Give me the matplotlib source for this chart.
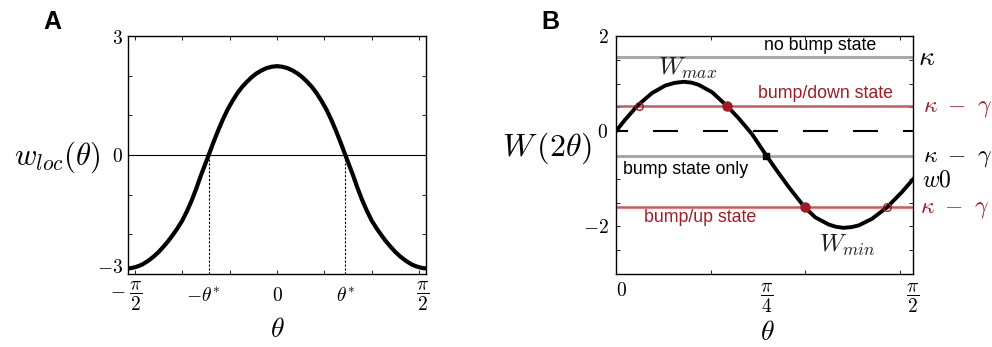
import matplotlib
matplotlib.use('Agg')
import matplotlib.pyplot as plt
import matplotlib.transforms as mtransforms
import numpy as np

plt.rcParams['mathtext.fontset'] = 'cm'
plt.rcParams['font.family'] = ['Liberation Sans', 'DejaVu Sans']
plt.rcParams['lines.scale_dashes'] = False

# ---------------- Panel A data ----------------
theta_a = [-1.571, -1.535, -1.50, -1.46, -1.42, -1.36, -1.30, -1.25, -1.20, -1.15, -1.10,
           -1.05, -1.00, -0.95, -0.90, -0.85, -0.80, -0.76, -0.72, -0.67, -0.62, -0.57,
           -0.52, -0.47, -0.42, -0.37, -0.32, -0.27, -0.22, -0.165, -0.11, -0.055, 0.0,
           0.055, 0.11, 0.165, 0.22, 0.27, 0.32, 0.37, 0.42, 0.47, 0.52, 0.57, 0.62,
           0.67, 0.72, 0.76, 0.80, 0.85, 0.90, 0.95, 1.00, 1.05, 1.10, 1.15, 1.20,
           1.25, 1.30, 1.36, 1.42, 1.46, 1.50, 1.535, 1.571]
w_loc = [-2.86, -2.85, -2.83, -2.80, -2.76, -2.67, -2.56, -2.45, -2.32, -2.18, -2.02,
         -1.85, -1.66, -1.42, -1.15, -0.84, -0.50, -0.25, 0.0, 0.32, 0.62, 0.90,
         1.15, 1.36, 1.55, 1.71, 1.84, 1.955, 2.05, 2.13, 2.19, 2.225, 2.24,
         2.225, 2.19, 2.13, 2.05, 1.955, 1.84, 1.71, 1.55, 1.36, 1.15, 0.90, 0.62,
         0.32, 0.0, -0.25, -0.50, -0.84, -1.15, -1.42, -1.66, -1.85, -2.02, -2.18, -2.32,
         -2.45, -2.56, -2.67, -2.76, -2.80, -2.83, -2.85, -2.86]
theta_star = 0.72
a_xticks = [-1.5, -1.0, -0.5, 0.0, 0.5, 1.0, 1.5]
a_yticks = [-3, -2, -1, 0, 1, 2, 3]
a_ylab_txt = [r'$3$', r'$0$', r'$-3$']
a_xlab_pos = [-1.59, -0.78, 0.0, 0.72, 1.53]
a_xlab_txt = [r'$-\;\dfrac{\pi}{2}$', r'$-\theta^{*}$', r'$0$', r'$\theta^{*}$', r'$\dfrac{\pi}{2}$']

# ---------------- Panel B data ----------------
theta_b = [0.0, 0.049, 0.116, 0.190, 0.261, 0.310, 0.358, 0.400, 0.437, 0.508, 0.587,
           0.649, 0.719, 0.790, 0.842, 0.913, 0.998, 1.054, 1.125, 1.165, 1.204, 1.245,
           1.283, 1.354, 1.433, 1.512, 1.571]
W_b = [0.0, 0.246, 0.547, 0.80, 0.96, 1.015, 1.038, 1.02, 0.975, 0.82, 0.53,
       0.27, -0.06, -0.48, -0.78, -1.17, -1.60, -1.81, -1.96, -2.01, -2.03, -2.015,
       -1.98, -1.84, -1.60, -1.28, -1.01]
kappa = 1.56
kappa_down = 0.53
kappa_gamma = -0.53
kappa_up = -1.60
open_pts_x = [0.122, 1.432]
open_pts_y = [0.53, -1.60]
filled_pts_x = [0.587, 0.998]
filled_pts_y = [0.53, -1.60]
square_x = [0.792]
square_y = [-0.53]
b_xticks = [0.0, 0.5, 1.0, 1.5]
b_yticks = [-3, -2.5, -2, -1.5, -1, -0.5, 0, 0.5, 1, 1.5, 2]
b_ytick_labels = ['', '', r'$-2$', '', '', '', r'$0$', '', '', '', r'$2$']
b_xlab_pos = [0.795, 1.568]
b_xlab_txt = [r'$\dfrac{\pi}{4}$', r'$\dfrac{\pi}{2}$']

RED_LINE = '#c9595e'
RED_DARK = '#a01c22'
GREY = '#a8a8a8'

W, H = 992, 347
def fx(px):
    return px / W
def fy(py):
    return 1 - py / H

fig = plt.figure(figsize=(W / 100, H / 100), dpi=100)
axA = fig.add_axes([fx(128), fy(274), 298 / W, 238 / H])
axB = fig.add_axes([fx(616), fy(274), 297 / W, 238 / H])

for ax in (axA, axB):
    for s in ax.spines.values():
        s.set_linewidth(1.0)
    ax.tick_params(direction='in', length=3, width=0.6, top=True, right=True)

# ---------------- Panel A ----------------
axA.axhline(0, color='k', lw=0.8, zorder=2)
axA.vlines([-theta_star, theta_star], -3, 0, colors='k', linestyles=(0, (1.6, 1.2)), lw=0.8, zorder=2)
axA.plot(theta_a, w_loc, color='k', lw=3.0, zorder=3, solid_joinstyle='round')
axA.set_xlim(-np.pi / 2, np.pi / 2)
axA.set_ylim(-3, 3)
axA.set_xticks(a_xticks)
axA.set_xticklabels([])
axA.set_yticks(a_yticks)
axA.set_yticklabels([])
trA = mtransforms.blended_transform_factory(axA.transData, fig.transFigure)
for p, t in zip(a_xlab_pos, a_xlab_txt):
    axA.text(p, fy(296), t, transform=trA, ha='center', va='center', fontsize=14)
trAy = mtransforms.blended_transform_factory(fig.transFigure, axA.transData)
a_ylab_off = [2.93, -0.05, -2.85]
for t, yo in zip(a_ylab_txt, a_ylab_off):
    axA.text(fx(123), yo, t, transform=trAy, ha='right', va='center', fontsize=14)
fig.text(fx(277), fy(330), r'$\theta$', ha='center', va='center', fontsize=20)
fig.text(fx(57), fy(157), r'$w_{loc}(\theta)$', ha='center', va='center', fontsize=22)
fig.text(fx(52), fy(22), 'A', ha='center', va='center', fontsize=18, fontweight='bold')

# ---------------- Panel B ----------------
axB.axhline(kappa, color=GREY, lw=2.2, zorder=2)
axB.axhline(kappa_gamma, color=GREY, lw=2.2, zorder=2)
axB.axhline(kappa_down, color=RED_LINE, lw=1.8, zorder=2)
axB.axhline(kappa_up, color=RED_LINE, lw=1.8, zorder=2)
axB.axhline(0, color='k', lw=1.5, linestyle=(9.4, (18, 18)), zorder=2)
axB.plot(theta_b, W_b, color='k', lw=2.8, zorder=3, solid_joinstyle='round')
axB.plot(open_pts_x, open_pts_y, 'o', ms=5.5, mfc='none', mec=RED_DARK, mew=1.0, zorder=4)
axB.plot(filled_pts_x, filled_pts_y, 'o', ms=6.5, color=RED_DARK, zorder=4)
axB.plot(square_x, square_y, 's', ms=5, color='k', zorder=4)
axB.set_xlim(0, np.pi / 2)
axB.set_ylim(-3, 2)
axB.set_xticks(b_xticks)
axB.set_xticklabels([])
axB.set_yticks(b_yticks)
axB.set_yticklabels(b_ytick_labels, fontsize=14)
axB.tick_params(axis='y', pad=5.5)
trB = mtransforms.blended_transform_factory(axB.transData, fig.transFigure)
axB.text(0.03, fy(291), r'$0$', transform=trB, ha='center', va='center', fontsize=14)
for p, t in zip(b_xlab_pos, b_xlab_txt):
    axB.text(p, fy(298), t, transform=trB, ha='center', va='center', fontsize=14)

axB.text(0.783, 1.81, 'no bump state', ha='left', va='center', fontsize=12.8, color='k')
axB.text(0.751, 0.80, 'bump/down state', ha='left', va='center', fontsize=12.8, color=RED_DARK)
axB.text(0.037, -0.795, 'bump state only', ha='left', va='center', fontsize=12.8, color='k')
axB.text(0.148, -1.82, 'bump/up state', ha='left', va='center', fontsize=12.8, color=RED_DARK)
axB.text(0.222, 1.18, r'$W_{max}$', ha='left', va='baseline', fontsize=18, color='#222222')
axB.text(1.073, -2.53, r'$W_{min}$', ha='left', va='baseline', fontsize=18, color='#222222')

axB.text(1.597, 1.397, r'$\kappa$', ha='left', va='baseline', fontsize=20, color='k', clip_on=False)
axB.text(1.623, 0.41, r'$\kappa\ -\ \gamma$', ha='left', va='baseline', fontsize=17, color=RED_DARK, clip_on=False)
axB.text(1.623, -0.64, r'$\kappa\ -\ \gamma$', ha='left', va='baseline', fontsize=17, color='k', clip_on=False)
axB.text(1.618, -1.166, r'$w0$', ha='left', va='baseline', fontsize=17, color='k', clip_on=False)
axB.text(1.607, -1.718, r'$\kappa\ -\ \gamma$', ha='left', va='baseline', fontsize=17, color=RED_DARK, clip_on=False)

fig.text(fx(767), fy(333), r'$\theta$', ha='center', va='center', fontsize=20)
fig.text(fx(547), fy(148), r'$W\,(2\theta)$', ha='center', va='center', fontsize=23)
fig.text(fx(550), fy(22), 'B', ha='center', va='center', fontsize=18, fontweight='bold')

fig.savefig('out.png', dpi=100)
